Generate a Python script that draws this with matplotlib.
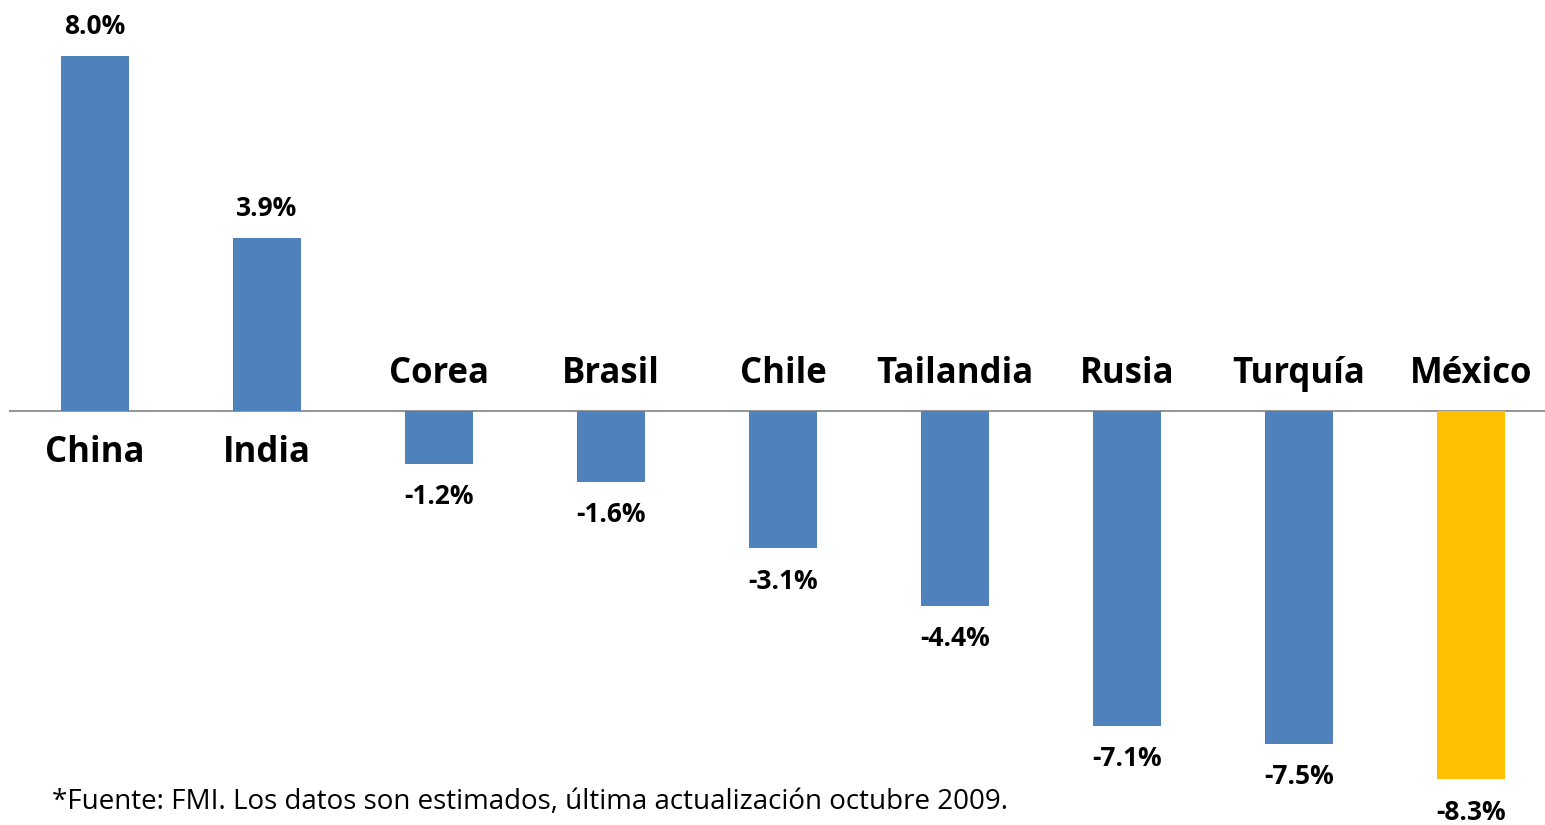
import matplotlib.pyplot as plt

# growth data (FMI estimates)
paises = ["China", "India", "Corea", "Brasil", "Chile", "Tailandia", "Rusia", "Turquía", "México"]
valores = [8.0, 3.9, -1.2, -1.6, -3.1, -4.4, -7.1, -7.5, -8.3]
etiquetas = ["8.0%", "3.9%", "-1.2%", "-1.6%", "-3.1%", "-4.4%", "-7.1%", "-7.5%", "-8.3%"]
colores = ["#4F81BD"] * 8 + ["#FFC000"]

plt.rcParams['font.family'] = ['Open Sans', 'DejaVu Sans']

fig = plt.figure(figsize=(15.45, 8.25), dpi=100)
ax = fig.add_axes([9 / 1545, 0, 1536 / 1545, 1])

x = list(range(len(paises)))
ax.bar(x, valores, width=0.395, color=colores, zorder=2)
ax.axhline(0, color="#8C8C8C", lw=1.3, zorder=1)

ax.set_xlim(-0.5, 8.43)
ax.set_ylim(-9.33, 9.25)
ax.axis("off")

for i, v in enumerate(valores):
    if v >= 0:
        ax.text(i, v + 0.66, etiquetas[i], ha="center", va="center",
                fontsize=19, fontweight="bold")
        ax.text(i, -0.95, paises[i], ha="center", va="center",
                fontsize=25, fontweight="bold")
    else:
        ax.text(i, v - 0.74, etiquetas[i], ha="center", va="center",
                fontsize=19, fontweight="bold")
        ax.text(i, 0.82, paises[i], ha="center", va="center",
                fontsize=25, fontweight="bold")

fig.text(52 / 1545, 1 - 802 / 825,
         "*Fuente: FMI. Los datos son estimados, última actualización octubre 2009.",
         ha="left", va="center", fontsize=20)

fig.savefig("out.png", dpi=100)
